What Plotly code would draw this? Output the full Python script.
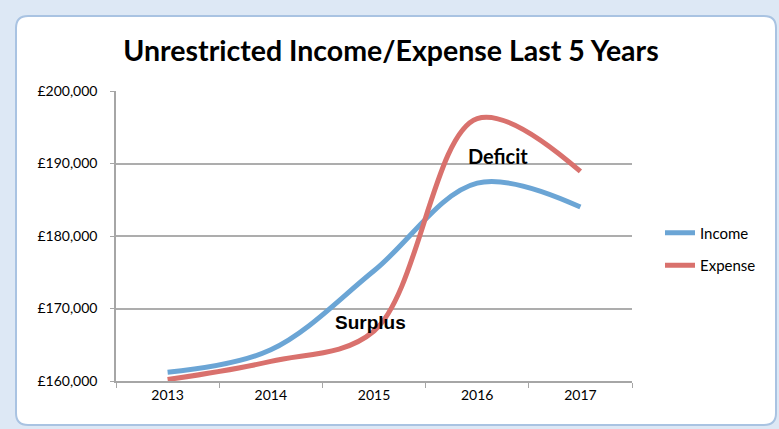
import plotly.graph_objects as go

years = ["2013", "2014", "2015", "2016", "2017"]
income = [161200, 164300, 175200, 187300, 184000]
expense = [160200, 162700, 166900, 196200, 188900]

W, H = 779, 429
L, R, T, B = 116, 632, 91, 381


def px(x):
    return (x - L) / (R - L)


def py(y):
    return (B - y) / (B - T)


fig = go.Figure()
fig.add_trace(go.Scatter(x=years, y=income, name="Income", mode="lines", legendgroup="a",
                         line=dict(color="#6ba5d5", width=5, shape="spline", smoothing=1.0)))
fig.add_trace(go.Scatter(x=years, y=expense, name="Expense", mode="lines", legendgroup="b",
                         line=dict(color="#d9716d", width=5, shape="spline", smoothing=1.0)))

x0, y0, x1, y1, r = 16, 16, 776, 425, 12
path = (f"M {px(x0+r)},{py(y0)} L {px(x1-r)},{py(y0)} Q {px(x1)},{py(y0)} {px(x1)},{py(y0+r)} "
        f"L {px(x1)},{py(y1-r)} Q {px(x1)},{py(y1)} {px(x1-r)},{py(y1)} "
        f"L {px(x0+r)},{py(y1)} Q {px(x0)},{py(y1)} {px(x0)},{py(y1-r)} "
        f"L {px(x0)},{py(y0+r)} Q {px(x0)},{py(y0)} {px(x0+r)},{py(y0)} Z")

FONT = "Lato, Arial, sans-serif"

fig.update_layout(
    width=W, height=H,
    margin=dict(l=L, r=W - R, t=T, b=H - B),
    paper_bgcolor="#dde8f5",
    plot_bgcolor="rgba(0,0,0,0)",
    font=dict(family=FONT, color="#000000"),
    title=dict(text="<b>Unrestricted Income/Expense Last 5 Years</b>",
               x=391 / W, xanchor="center", y=1 - 51 / H, yanchor="middle",
               font=dict(size=28.5, family=FONT, color="#000")),
    shapes=[dict(type="path", path=path, xref="paper", yref="paper",
                 fillcolor="white", line=dict(color="#a9c3e2", width=2), layer="below")],
    showlegend=True,
    legend=dict(x=px(660), xanchor="left", y=py(249), yanchor="middle",
                xref="paper", yref="paper",
                font=dict(size=15, family=FONT, color="#000"),
                bgcolor="rgba(0,0,0,0)", itemwidth=30, tracegroupgap=10),
    xaxis=dict(type="category", range=[-0.5, 4.5], showgrid=False,
               showline=True, linecolor="#a6a6a6", linewidth=1.5,
               ticks="outside", ticklen=5, tickcolor="#a6a6a6", tickson="boundaries",
               tickfont=dict(size=14, family=FONT, color="#000")),
    yaxis=dict(range=[160000, 200000], dtick=10000, tickprefix="£", tickformat=",d",
               showgrid=True, gridcolor="#adadad", gridwidth=1.5,
               showline=True, linecolor="#a6a6a6", linewidth=1.5,
               ticks="outside", ticklen=4, tickcolor="#a6a6a6",
               ticklabelstandoff=10, zeroline=False,
               tickfont=dict(size=14, family=FONT, color="#000")),
    annotations=[
        dict(text="<b>Surplus</b>", x=px(370), y=py(322), xref="paper", yref="paper",
             xanchor="center", yanchor="middle",
             showarrow=False, font=dict(size=19, family="Arial", color="#000")),
        dict(text="<b>Deficit</b>", x=px(498), y=py(156), xref="paper", yref="paper",
             xanchor="center", yanchor="middle",
             showarrow=False, font=dict(size=20, family=FONT, color="#000")),
    ],
)

fig.write_html("out.html")
